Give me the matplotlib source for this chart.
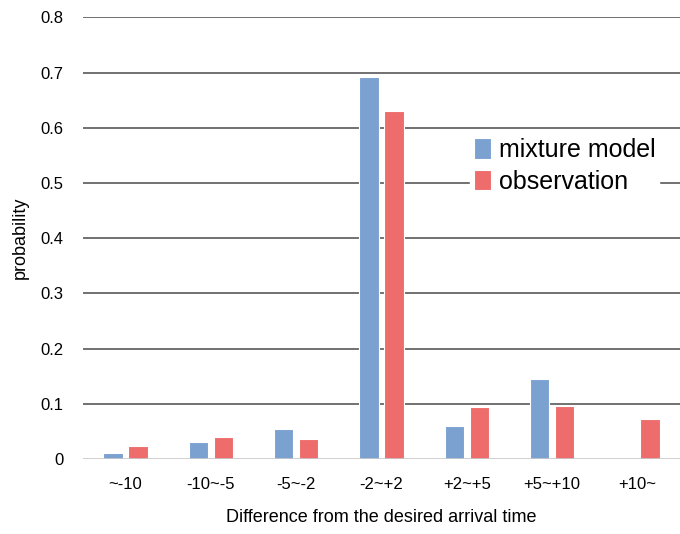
import numpy as np
import matplotlib
matplotlib.use("Agg")
import matplotlib.pyplot as plt

categories = ["~-10", "-10~-5", "-5~-2", "-2~+2", "+2~+5", "+5~+10", "+10~"]
mixture_model = [0.011, 0.030, 0.054, 0.691, 0.060, 0.145, 0.0]
observation = [0.023, 0.040, 0.037, 0.630, 0.094, 0.096, 0.072]
yticks = [0, 0.1, 0.2, 0.3, 0.4, 0.5, 0.6, 0.7, 0.8]
ytick_labels = ["0", "0.1", "0.2", "0.3", "0.4", "0.5", "0.6", "0.7", "0.8"]

plt.rcParams['font.family'] = ['Liberation Sans', 'DejaVu Sans']

fig = plt.figure(figsize=(6.8, 5.34), dpi=100)
ax = fig.add_axes([0.122, 0.1404, 0.878, 0.8272])

x = np.arange(len(categories))
w = 0.228
ax.bar(x - 0.146, mixture_model, w, color="#7BA1D1", edgecolor="white", linewidth=0.8,
       label="mixture model", zorder=3)
ax.bar(x + 0.146, observation, w, color="#EE6C6C", edgecolor="white", linewidth=0.8,
       label="observation", zorder=3)

ax.set_xlim(-0.5, len(categories) - 0.5)
ax.set_ylim(0, 0.8)
ax.set_yticks(yticks)
ax.set_yticklabels(ytick_labels, fontsize=12)
ax.set_xticks(x)
ax.set_xticklabels(categories, fontsize=12)
ax.tick_params(axis="both", length=0)
ax.tick_params(axis="y", pad=14)
ax.tick_params(axis="x", pad=13)

# grid lines, the zero line is lighter
for y in yticks[1:]:
    ax.axhline(y, color="#4a4a4a", linewidth=1.1, zorder=1)
ax.axhline(0, color="#c8c8c8", linewidth=1.2, zorder=4)

for s in ax.spines.values():
    s.set_visible(False)

ax.set_xlabel("Difference from the desired arrival time", fontsize=13, labelpad=12)
ax.set_ylabel("probability", fontsize=13, labelpad=8)

leg = ax.legend(loc="upper left", bbox_to_anchor=(0.648, 0.735), fontsize=18, frameon=True,
                fancybox=False, handlelength=0.7, handleheight=0.9, handletextpad=0.3,
                labelspacing=0.3, borderpad=0.15, borderaxespad=0)
leg.get_frame().set_facecolor("white")
leg.get_frame().set_edgecolor("white")
leg.get_frame().set_alpha(1)
leg.set_zorder(5)

plt.savefig("out.png", dpi=100)
plt.close("all")
